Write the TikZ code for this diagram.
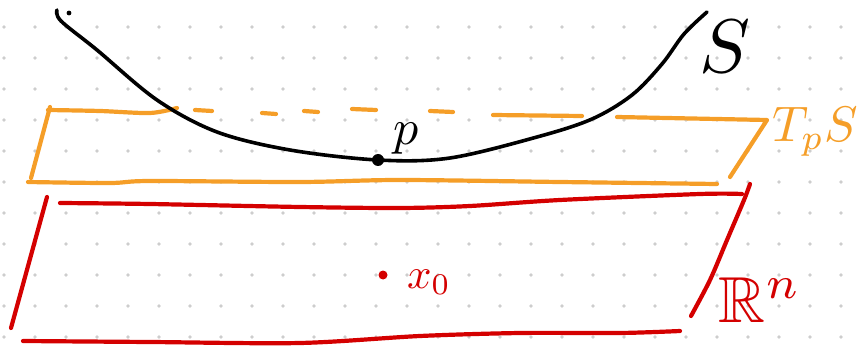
\documentclass[tikz,border=0pt]{standalone}
\usepackage{amsmath}
\usepackage{amssymb}
\usepackage{tikz}
\usetikzlibrary{positioning}
\definecolor{planeorange}{RGB}{245,158,40}
\definecolor{spacered}{RGB}{212,0,0}
\definecolor{griddot}{RGB}{205,205,205}

\begin{document}
\begin{tikzpicture}[x=1pt, y=-1pt, line cap=round, line join=round,
		surf/.style={black, line width=3.6pt},
		tangent/.style={planeorange, line width=4.2pt},
		ambient/.style={spacered, line width=4.2pt},
		dotnode/.style={circle, inner sep=0pt, minimum size=#1},
		lbl/.style={inner sep=0pt}]
	\useasboundingbox (0,0) rectangle (861,347);
	% dotted paper
	\foreach \i in {0,...,27}
		\foreach \j in {0,...,10}
			\fill[griddot] (4+31*\i, 27+31*\j) circle (1.8pt);

	% tangent plane T_p S
	\draw[tangent] (50,107) -- (31,178);
	\draw[tangent] plot[smooth] coordinates {(48,110) (100,111) (150,113) (177,108)};
	\foreach \a/\b/\h in {195/212/110, 262/276/113, 304/318/111, 352/376/109, 430/453/111, 493/582/115}
		\draw[tangent] (\a,\h) -- (\b,\h+1);
	\draw[tangent] (617,117) -- (767,120) -- (730,177);
	\draw[tangent] plot[smooth] coordinates {(28,182) (110,183) (150,181) (300,182) (400,180) (560,182) (717,184)};

	% R^n
	\draw[ambient] (47,197) -- (11,328);
	\draw[ambient] plot[smooth] coordinates {(60,203) (150,204) (300,207) (400,208) (470,206) (560,200) (700,194) (742,194)};
	\draw[ambient] plot[smooth] coordinates {(750,184) (744,200) (727,240) (710,280) (691,316)};
	\draw[ambient] plot[smooth] coordinates {(23,341) (150,342) (300,343) (420,336) (520,333) (620,333) (680,331)};

	% surface S
	\draw[surf] plot[smooth, tension=0.55] coordinates {(57,10) (61,21) (97,50) (157,100) (217,132) (290,150) (378,160) (450,158) (537,137) (592,119) (632,95) (662,64) (684,34) (707,12)};
	\fill (69,13) circle (2.4pt);

	\node[dotnode=12pt, fill=black] (pdot) at (378,160) {};
	\node[lbl, scale=5] (plbl) at (406,139) {$p$};
	\node[dotnode=9pt, fill=spacered] (xdot) at (383,275) {};
	\node[lbl, scale=4.3, text=spacered] (xlbl) at (429,282) {$x_0$};

	\node[lbl, scale=7.6] (slbl) at (725,47) {$S$};
	\node[lbl, scale=5, text=planeorange] (tlbl) at (815,132) {$T_pS$};
	\node[lbl, scale=6.5, text=spacered] (rlbl) at (760,300) {$\mathbb{R}^n$};
\end{tikzpicture}
\end{document}
